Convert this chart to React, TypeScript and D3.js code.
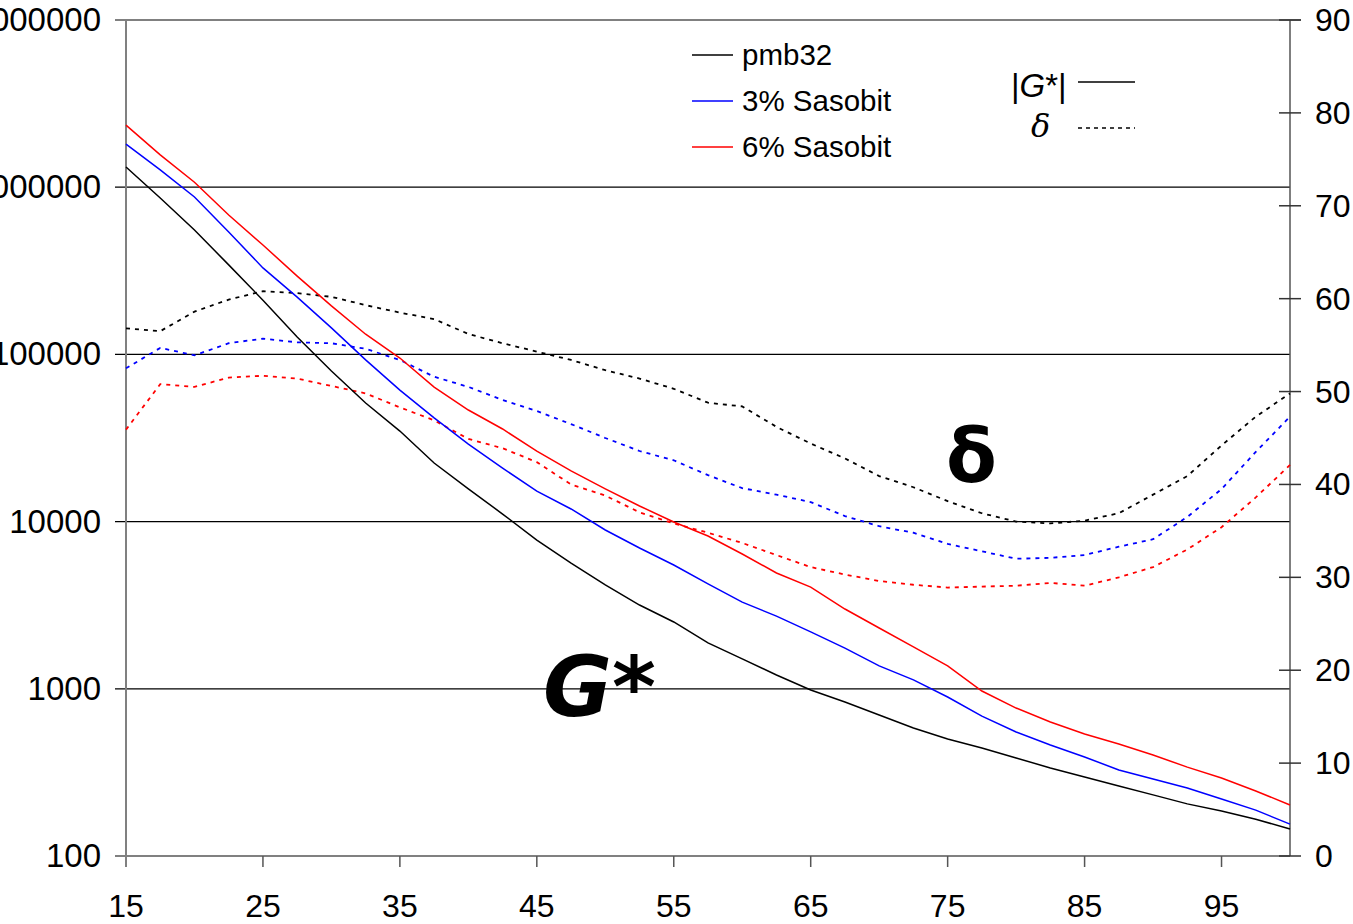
import React from "react";
import * as d3 from "d3";

const temps = [15, 17.5, 20, 22.5, 25, 27.5, 30, 32.5, 35, 37.5, 40, 42.5, 45, 47.5, 50, 52.5, 55, 57.5, 60, 62.5, 65, 67.5, 70, 72.5, 75, 77.5, 80, 82.5, 85, 87.5, 90, 92.5, 95, 97.5, 100];

const gPmb32 = [1.32e6, 8.61e5, 5.55e5, 3.43e5, 2.11e5, 1.27e5, 7.96e4, 5.12e4, 3.48e4, 2.24e4, 1.57e4, 1.11e4, 7760, 5650, 4180, 3170, 2510, 1880, 1510, 1210, 984, 834, 697, 583, 501, 443, 386, 336, 297, 262, 232, 205, 186, 166, 145];
const gSas3 = [1.81e6, 1.27e6, 8.74e5, 5.4e5, 3.29e5, 2.2e5, 1.44e5, 9.27e4, 6.12e4, 4.17e4, 2.91e4, 2.09e4, 1.52e4, 1.19e4, 8910, 6950, 5500, 4240, 3300, 2720, 2190, 1750, 1370, 1130, 893, 687, 552, 461, 391, 327, 289, 255, 219, 188, 155];
const gSas6 = [2.35e6, 1.56e6, 1.07e6, 6.82e5, 4.51e5, 2.94e5, 1.95e5, 1.32e5, 9.51e4, 6.38e4, 4.65e4, 3.58e4, 2.64e4, 2.01e4, 1.57e4, 1.24e4, 9950, 8200, 6400, 4930, 4060, 3000, 2310, 1780, 1370, 970, 767, 633, 537, 468, 402, 340, 293, 245, 202];

const dPmb32 = [56.8, 56.5, 58.6, 59.9, 60.8, 60.6, 60.2, 59.3, 58.5, 57.8, 56.2, 55.2, 54.3, 53.4, 52.3, 51.4, 50.3, 48.8, 48.4, 46.2, 44.4, 42.8, 40.9, 39.7, 38.2, 36.9, 36.0, 35.8, 36.1, 36.9, 38.9, 40.9, 44.2, 47.3, 49.8];
const dSas3 = [52.5, 54.7, 53.9, 55.2, 55.7, 55.3, 55.2, 54.6, 53.4, 51.6, 50.5, 49.1, 47.9, 46.5, 45.0, 43.6, 42.6, 41.0, 39.6, 38.9, 38.1, 36.6, 35.5, 34.8, 33.6, 32.8, 32.0, 32.1, 32.4, 33.3, 34.1, 36.5, 39.5, 43.5, 47.3];
const dSas6 = [45.9, 50.8, 50.5, 51.5, 51.7, 51.4, 50.6, 49.8, 48.3, 46.9, 44.9, 43.9, 42.4, 40.0, 38.8, 37.0, 35.8, 34.8, 33.7, 32.4, 31.1, 30.3, 29.6, 29.2, 28.9, 29.0, 29.1, 29.4, 29.1, 30.0, 31.1, 33.0, 35.4, 38.6, 42.1];

const seriesNames = ["pmb32", "3% Sasobit", "6% Sasobit"];
const seriesColors = ["#000000", "#0000ff", "#ff0000"];
const xTicks = [15, 25, 35, 45, 55, 65, 75, 85, 95];
const yLeftTicks = [100, 1000, 10000, 100000, 1000000, 10000000];
const yRightTicks = [0, 10, 20, 30, 40, 50, 60, 70, 80, 90];

const W = 1353;
const H = 924;
const L = 126;
const R = 1290;
const T = 20;
const B = 856;
const FONT = "'Liberation Sans', Arial, sans-serif";

export default function App() {
  const x = d3.scaleLinear().domain([15, 100]).range([L, R]);
  const yL = d3.scaleLog().domain([100, 1e7]).range([B, T]);
  const yR = d3.scaleLinear().domain([0, 90]).range([B, T]);

  const gLine = d3
    .line<number>()
    .x((_, i) => x(temps[i]))
    .y((v) => yL(v));
  const dLine = d3
    .line<number>()
    .x((_, i) => x(temps[i]))
    .y((v) => yR(v));

  const gSeries = [gPmb32, gSas3, gSas6];
  const dSeries = [dPmb32, dSas3, dSas6];

  return (
    <svg
      width={W}
      height={H}
      style={{ position: "absolute", left: 0, top: 0, background: "#fff" }}
      fontFamily={FONT}
    >
      {/* top border */}
      <line x1={115} x2={1301} y1={T} y2={T} stroke="#808080" strokeWidth={2} />
      {/* gridlines */}
      {yLeftTicks
        .filter((v) => v > 100 && v < 1e7)
        .map((v) => (
          <line key={v} x1={115} x2={R} y1={yL(v)} y2={yL(v)} stroke="#000" strokeWidth={1.3} />
        ))}
      {/* bottom axis */}
      <line x1={115} x2={R} y1={B} y2={B} stroke="#808080" strokeWidth={2} />
      {xTicks.map((t) => (
        <g key={t}>
          <line x1={x(t)} x2={x(t)} y1={B} y2={B + 11} stroke="#555" strokeWidth={1.5} />
          <text x={x(t)} y={917} textAnchor="middle" fontSize={32} fill="#000">
            {t}
          </text>
        </g>
      ))}
      {/* left axis */}
      <line x1={L} x2={L} y1={T} y2={B + 11} stroke="#808080" strokeWidth={2} />
      {yLeftTicks.map((v) => (
        <text key={v} x={101} y={yL(v) + 11} textAnchor="end" fontSize={33} fill="#000">
          {v}
        </text>
      ))}
      {/* right axis */}
      <line x1={R} x2={R} y1={T} y2={B} stroke="#555" strokeWidth={1.5} />
      {yRightTicks.map((v) => (
        <g key={v}>
          <line x1={R - 11} x2={R + 11} y1={yR(v)} y2={yR(v)} stroke="#333" strokeWidth={1.5} />
          <text x={1315} y={yR(v) + 11} textAnchor="start" fontSize={32} fill="#000">
            {v}
          </text>
        </g>
      ))}

      {/* delta lines */}
      {dSeries.map((s, i) => (
        <path
          key={"d" + i}
          d={dLine(s) || ""}
          fill="none"
          stroke={seriesColors[i]}
          strokeWidth={1.8}
          strokeDasharray="4,5"
        />
      ))}
      {/* G* lines */}
      {gSeries.map((s, i) => (
        <path key={"g" + i} d={gLine(s) || ""} fill="none" stroke={seriesColors[i]} strokeWidth={1.5} />
      ))}

      {/* annotations */}
      <text x={543} y={716} fontSize={84} fontWeight="bold" fontStyle="italic" fontFamily="'DejaVu Sans', sans-serif" fill="#000">
        G*
      </text>
      <text x={946} y={482} fontSize={74} fontWeight="bold" fontFamily="'DejaVu Sans', sans-serif" fill="#000">
        δ
      </text>

      {/* legend */}
      {seriesNames.map((n, i) => (
        <g key={n}>
          <line x1={692} x2={733} y1={55 + i * 46} y2={55 + i * 46} stroke={seriesColors[i]} strokeWidth={1.5} />
          <text x={742} y={65 + i * 46} fontSize={29.5} fill="#000">
            {n}
          </text>
        </g>
      ))}
      <text x={1011} y={97} fontSize={33} fill="#000">
        |<tspan fontStyle="italic">G</tspan>*|
      </text>
      <line x1={1078} x2={1135} y1={82} y2={82} stroke="#000" strokeWidth={1.5} />
      <text x={1031} y={137} fontSize={32} fontStyle="italic" fontFamily="'DejaVu Serif', serif" fill="#000">
        δ
      </text>
      <line x1={1078} x2={1135} y1={128} y2={128} stroke="#000" strokeWidth={1.5} strokeDasharray="4,4" />
    </svg>
  );
}
